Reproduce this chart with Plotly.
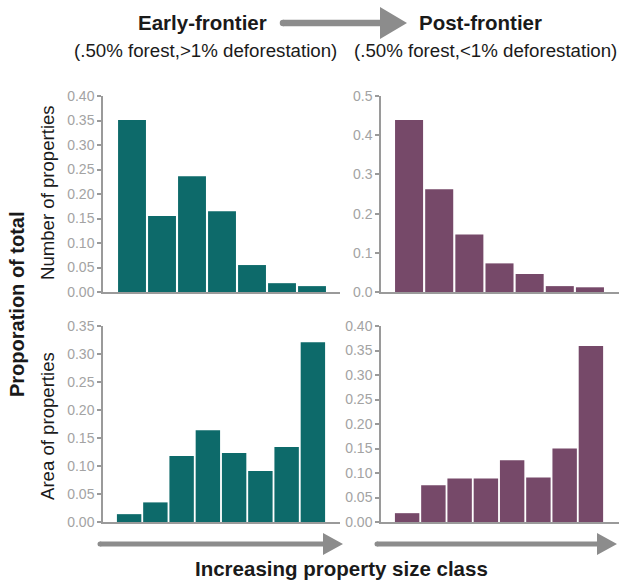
import plotly.graph_objects as go

W, H = 619, 582

# ---- data ----
classes_num = [1, 2, 3, 4, 5, 6, 7]
classes_area = [1, 2, 3, 4, 5, 6, 7, 8]
early_number = [0.351, 0.155, 0.236, 0.165, 0.055, 0.018, 0.012]
post_number = [0.439, 0.262, 0.147, 0.073, 0.046, 0.015, 0.012]
early_area = [0.014, 0.035, 0.118, 0.164, 0.123, 0.091, 0.134, 0.321]
post_area = [0.018, 0.075, 0.089, 0.089, 0.126, 0.091, 0.150, 0.359]

ticks_tl = [0.0, 0.05, 0.10, 0.15, 0.20, 0.25, 0.30, 0.35, 0.40]
ticks_tr = [0.0, 0.1, 0.2, 0.3, 0.4, 0.5]
ticks_bl = [0.0, 0.05, 0.10, 0.15, 0.20, 0.25, 0.30, 0.35]
ticks_br = [0.0, 0.05, 0.10, 0.15, 0.20, 0.25, 0.30, 0.35, 0.40]

TEAL = "#0d6a6a"
PURPLE = "#764969"
AXIS = "#9a9a9a"
TICKTXT = "#a3a3a3"
FONT = "Liberation Sans, Arial, sans-serif"

# effective drawing area observed in the viewer: height 566 starting 8px down
Y0, HEFF = 8, 566


def px(x):
    return x / W


def py(y):
    return 1 - (y - Y0) / HEFF


fig = go.Figure()
fig.add_trace(go.Bar(x=classes_num, y=early_number, marker_color=TEAL, xaxis="x", yaxis="y"))
fig.add_trace(go.Bar(x=classes_num, y=post_number, marker_color=PURPLE, xaxis="x2", yaxis="y2"))
fig.add_trace(go.Bar(x=classes_area, y=early_area, marker_color=TEAL, xaxis="x3", yaxis="y3"))
fig.add_trace(go.Bar(x=classes_area, y=post_area, marker_color=PURPLE, xaxis="x4", yaxis="y4"))
fig.update_traces(marker_line_width=0, showlegend=False)


def xax(domain, rng, anchor):
    return dict(domain=domain, range=rng, anchor=anchor, showline=True, linecolor=AXIS,
                linewidth=1.5, showticklabels=False, ticks="", showgrid=False, zeroline=False,
                fixedrange=True)


def yax(domain, rng, anchor, tickvals, fmt):
    return dict(domain=domain, range=rng, anchor=anchor, showline=True, linecolor=AXIS,
                linewidth=1.5, tickvals=tickvals, tickformat=fmt, ticks="outside", ticklen=4,
                tickcolor=AXIS, tickwidth=1.5, showgrid=False, zeroline=False,
                tickfont=dict(family=FONT, size=14, color=TICKTXT), fixedrange=True)


top_dom = [py(292), py(96)]
bot_dom = [py(522), py(326)]
left_dom = [px(103), px(340)]
right_dom = [px(381), px(619)]

fig.update_layout(
    width=W, height=H,
    margin=dict(l=0, r=0, t=0, b=0),
    paper_bgcolor="white", plot_bgcolor="white",
    bargap=0.07,
    xaxis=xax(left_dom, [0.033, 7.933], "y"),
    yaxis=yax(top_dom, [0, 0.40], "x", ticks_tl, ".2f"),
    xaxis2=xax(right_dom, [0.069, 7.964], "y2"),
    yaxis2=yax(top_dom, [0, 0.5], "x2", ticks_tr, ".1f"),
    xaxis3=xax(left_dom, [0.005, 9.033], "y3"),
    yaxis3=yax(bot_dom, [0, 0.35], "x3", ticks_bl, ".2f"),
    xaxis4=xax(right_dom, [0.005, 9.07], "y4"),
    yaxis4=yax(bot_dom, [0, 0.40], "x4", ticks_br, ".2f"),
)

ann = []


def text(x, y, s, size, bold=False, color="#1a1a1a", angle=0):
    ann.append(dict(x=px(x), y=py(y), xref="paper", yref="paper", text=(f"<b>{s}</b>" if bold else s),
                    showarrow=False, textangle=angle, xanchor="center", yanchor="middle",
                    font=dict(family=FONT, size=size, color=color)))


text(202, 23, "Early-frontier", 20.5, bold=True)
text(480, 23, "Post-frontier", 20.5, bold=True)
text(205, 51, "(.50% forest,&gt;1% deforestation)", 18.7)
text(485, 51, "(.50% forest,&lt;1% deforestation)", 18.7)
text(17, 304, "Proporation of total", 20, bold=True, angle=-90)
text(47, 193, "Number of properties", 18.6, angle=-90)
text(47, 426, "Area of properties", 18.6, angle=-90)
text(341, 568, "Increasing property size class", 20.5, bold=True)
fig.update_layout(annotations=ann)

ARROW = "#8c8c8c"


def arrow(x0, x1, y, shaft, head_len, head_h):
    xs = x1 - head_len
    path = (f"M {px(x0)} {py(y - shaft / 2)} L {px(xs)} {py(y - shaft / 2)} "
            f"L {px(xs)} {py(y - head_h / 2)} L {px(x1)} {py(y)} L {px(xs)} {py(y + head_h / 2)} "
            f"L {px(xs)} {py(y + shaft / 2)} L {px(x0)} {py(y + shaft / 2)} Z")
    body = dict(type="path", path=path, xref="paper", yref="paper", fillcolor=ARROW,
                line=dict(width=0))
    cap = dict(type="circle", xref="paper", yref="paper",
               x0=px(x0 - shaft / 2), x1=px(x0 + shaft / 2),
               y0=py(y + shaft / 2), y1=py(y - shaft / 2),
               fillcolor=ARROW, line=dict(width=0))
    return [body, cap]


fig.update_layout(shapes=(
    arrow(283, 407, 23, 6.5, 27, 32)
    + arrow(100, 343, 544, 5, 20, 22)
    + arrow(377, 617, 544, 5, 20, 22)
))

fig.write_html(
    "out.html",
    config={"displayModeBar": False},
    post_script=["document.body.style.margin='0';document.body.style.overflow='hidden';"],
)
